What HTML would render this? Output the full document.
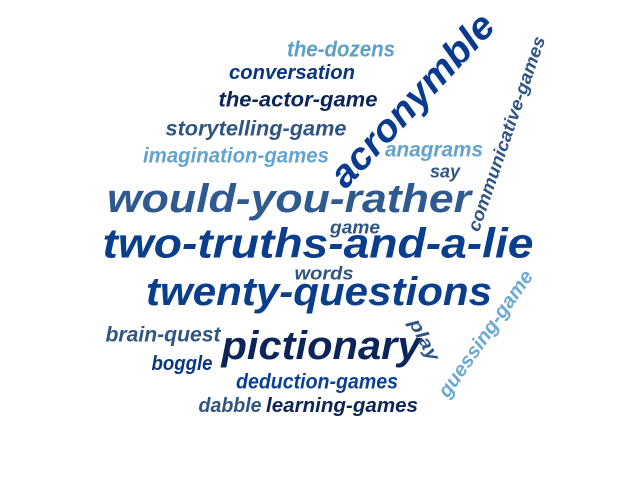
<!DOCTYPE html>
<html><head><meta charset="utf-8"><style>
html,body{margin:0;padding:0;background:#fff;}
svg{display:block}
text{font-family:"Liberation Sans",sans-serif;font-style:italic;font-weight:bold;}
</style></head><body>
<svg id="cloud" width="640" height="480" viewBox="0 0 640 480" xmlns="http://www.w3.org/2000/svg"></svg>
<script>
const words=["the-dozens","conversation","the-actor-game","storytelling-game","imagination-games","anagrams","say","acronymble","communicative-games","would-you-rather","game","two-truths-and-a-lie","words","twenty-questions","brain-quest","pictionary","play","guessing-game","boggle","deduction-games","dabble","learning-games"];
const fontSizes=[22,20,21,21,21,21,18,38,18,40,18,42,18,40,21,40,18,20,20,21,20,20];
const colors=["#5b9fcb","#08367f","#0b2558","#2f5583","#63a3cf","#63a3cf","#2f5583","#083a8f","#2f5583","#2f5a8f","#2f5583","#083e8c","#2f5583","#083e8c","#2f5583","#0b2558","#2f5583","#6aaad4","#08367f","#0a4098","#2f5583","#0b2558"];
// layout: center x, center y, width, rotation
const layout=[[341,50,108,0],[292,73,126,0],[298,100,159,0],[256,129,181,0],[236,156,186,0],[434,150,98,0],[445,172,30,0],[413,101,222,-47],[507,134,205,-71],[289,200,364,0],[355,228,50,0],[318,245,431,0],[324,274,59,0],[319,293,346,0],[163,335,115,0],[321,347,199,0],[424,340,45,62],[486,334,150,-55],[182,364,61,0],[317,382,162,0],[230,406,63,0],[342,406,152,0]];
const svg=document.getElementById('cloud');
words.forEach((w,i)=>{
  const [cx,cy,wd,rot]=layout[i];
  const t=document.createElementNS('http://www.w3.org/2000/svg','text');
  
  
  t.setAttribute('x',cx);
  t.setAttribute('y',cy+fontSizes[i]*0.3);
  t.setAttribute('text-anchor','middle');
  t.setAttribute('font-size',fontSizes[i]);
  t.setAttribute('fill',colors[i]);
  t.setAttribute('textLength',wd);
  t.setAttribute('lengthAdjust','spacingAndGlyphs');
  if(rot) t.setAttribute('transform','rotate('+rot+' '+cx+' '+cy+')');
  t.textContent=w;
  svg.appendChild(t);
});
</script>
</body></html>
